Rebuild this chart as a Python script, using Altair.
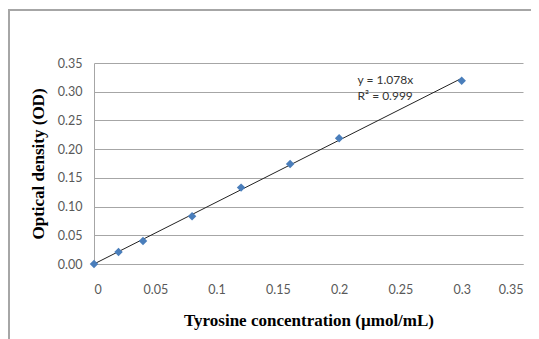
import altair as alt
import pandas as pd

conc = [0, 0.02, 0.04, 0.08, 0.12, 0.16, 0.20, 0.30]
od = [0.0, 0.021, 0.040, 0.083, 0.133, 0.174, 0.219, 0.319]
slope = 1.078
fit_x = [0, 0.30]
tick_vals = [0, 0.05, 0.1, 0.15, 0.2, 0.25, 0.3, 0.35]
eq_lines = ["y = 1.078x", "R² = 0.999"]
eq_x = [0.215, 0.215]
eq_y = [0.320, 0.2925]

df = pd.DataFrame({"x": conc, "y": od})
fit = pd.DataFrame({"x": fit_x, "y": [slope * v for v in fit_x]})
eq = pd.DataFrame({"t": eq_lines, "x": eq_x, "y": eq_y})

xs = alt.Scale(domain=[0, 0.35], nice=False, zero=True)
ys = alt.Scale(domain=[0, 0.35], nice=False, zero=True)

xenc = alt.X("x:Q", scale=xs, title="Tyrosine concentration (µmol/mL)",
             axis=alt.Axis(values=tick_vals, format="~g", labelOverlap=False,
                           grid=False, ticks=False, domain=True, domainColor="#a6a6a6",
                           labelPadding=19, titlePadding=17))
yenc = alt.Y("y:Q", scale=ys, title="Optical density (OD)",
             axis=alt.Axis(values=tick_vals, format=".2f", labelOverlap=False,
                           grid=True, gridColor="#a6a6a6", gridOpacity=1, ticks=False,
                           domainColor="#a6a6a6", labelPadding=12, titlePadding=10))

frame = alt.Chart(pd.DataFrame({"a": [0]})).mark_rect(
    fill="transparent", stroke="#a6a6a6", strokeWidth=2).encode(
    x=alt.value(-85), x2=alt.value(470), y=alt.value(-53), y2=alt.value(300))

line = alt.Chart(fit).mark_line(color="#222222", strokeWidth=1).encode(x=xenc, y=yenc)
pts = alt.Chart(df).mark_point(shape="diamond", filled=True, size=72, color="#4a7ebb", opacity=1).encode(x=xenc, y=yenc)
txt = alt.Chart(eq).mark_text(align="left", baseline="middle", font="Lato", fontSize=12, color="#333333").encode(
    x=xenc, y=yenc, text="t:N")

chart = alt.layer(frame, line, pts, txt).properties(
    width=429, height=201,
    autosize=alt.AutoSizeParams(type="none"),
    padding={"left": 86, "top": 55, "right": 8, "bottom": 75},
).configure_view(stroke=None).configure_axis(
    labelFont="Lato", labelFontSize=12.5, labelColor="#595959",
    titleFont="Liberation Serif", titleFontWeight="bold", titleColor="#000000",
).configure_axisX(titleFontSize=17).configure_axisY(titleFontSize=17)

chart.save("out.html", embed_options={"renderer": "svg", "actions": False})
